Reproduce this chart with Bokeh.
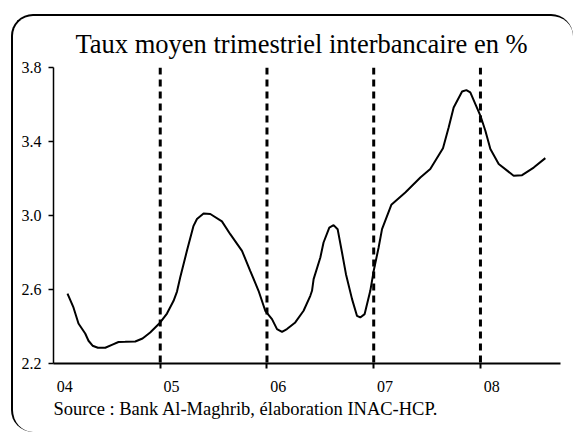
from bokeh.plotting import figure
from bokeh.models import FixedTicker, Span, Title, NumeralTickFormatter
from bokeh.embed import file_html
from bokeh.resources import INLINE

title_text = "Taux moyen trimestriel interbancaire en %"
source_text = "Source : Bank Al-Maghrib, élaboration INAC-HCP."
year_starts = [2004, 2005, 2006, 2007, 2008]
year_labels = ["04", "05", "06", "07", "08"]
break_years = [2005, 2006, 2007, 2008]
y_ticks = [2.2, 2.6, 3.0, 3.4, 3.8]

t = [2004.131, 2004.187, 2004.234, 2004.297, 2004.328, 2004.366, 2004.416, 2004.485,
     2004.547, 2004.609, 2004.672, 2004.766, 2004.834, 2004.906, 2005.000, 2005.063,
     2005.125, 2005.157, 2005.187, 2005.250, 2005.312, 2005.344, 2005.406, 2005.469,
     2005.578, 2005.656, 2005.766, 2005.843, 2005.921, 2005.984, 2006.047, 2006.094,
     2006.141, 2006.187, 2006.265, 2006.343, 2006.406, 2006.422, 2006.437, 2006.500,
     2006.530, 2006.584, 2006.624, 2006.662, 2006.703, 2006.740, 2006.797, 2006.843,
     2006.874, 2006.915, 2006.968, 2007.000, 2007.046, 2007.078, 2007.165, 2007.296,
     2007.437, 2007.530, 2007.649, 2007.702, 2007.749, 2007.828, 2007.868, 2007.905,
     2008.000, 2008.046, 2008.093, 2008.171, 2008.311, 2008.390, 2008.499, 2008.608]
rate = [2.578, 2.503, 2.416, 2.362, 2.323, 2.296, 2.285, 2.285,
        2.301, 2.316, 2.317, 2.319, 2.335, 2.368, 2.422, 2.470,
        2.539, 2.589, 2.665, 2.809, 2.944, 2.981, 3.011, 3.008,
        2.968, 2.899, 2.809, 2.701, 2.593, 2.485, 2.440, 2.386,
        2.371, 2.386, 2.422, 2.485, 2.566, 2.593, 2.656, 2.773,
        2.854, 2.935, 2.948, 2.926, 2.800, 2.683, 2.548, 2.458,
        2.449, 2.467, 2.593, 2.701, 2.827, 2.926, 3.058, 3.124,
        3.205, 3.251, 3.364, 3.476, 3.584, 3.670, 3.678, 3.665,
        3.539, 3.458, 3.359, 3.278, 3.215, 3.218, 3.259, 3.310]

FONT = "Liberation Serif"

p = figure(width=562, height=418, x_range=(2004.0, 2008.75), y_range=(2.2, 3.8),
           output_backend="svg", toolbar_location=None,
           min_border_left=40, min_border_right=15, min_border_top=51, min_border_bottom=71)
p.margin = (14, 0, 0, 11)
p.styles = {
    "border-top": "2px solid black",
    "border-left": "2px solid black",
    "border-right": "0px solid black",
    "border-bottom": "0px solid black",
    "border-radius": "22px",
}
p.background_fill_color = None
p.border_fill_color = None
p.outline_line_color = None
p.grid.visible = False

p.title.text = title_text
p.title.align = "left"
p.title.offset = 22
p.title.standoff = 18
p.title.text_font = FONT
p.title.text_font_size = "26.5px"
p.title.text_font_style = "normal"
p.title.text_color = "black"

src = Title(text=source_text, align="left", text_font=FONT, text_font_size="18.5px",
            text_font_style="normal", text_color="black", offset=0, standoff=4)
p.add_layout(src, "below")

label_pos = [round(y + 0.105, 3) for y in year_starts]
p.xaxis.ticker = FixedTicker(ticks=label_pos, minor_ticks=break_years)
p.xaxis.major_label_overrides = {pos: lab for pos, lab in zip(label_pos, year_labels)}
p.xaxis.major_tick_out = 0
p.xaxis.major_tick_in = 0
p.xaxis.minor_tick_out = 5
p.xaxis.minor_tick_in = 0
p.xaxis.minor_tick_line_color = "black"
p.xaxis.minor_tick_line_width = 2
p.xaxis.axis_line_width = 2
p.xaxis.axis_line_color = "black"
p.xaxis.major_label_standoff = 12
p.xaxis.major_label_text_font = FONT
p.xaxis.major_label_text_font_size = "16px"
p.xaxis.major_label_text_color = "black"

p.yaxis.ticker = FixedTicker(ticks=y_ticks)
p.yaxis.formatter = NumeralTickFormatter(format="0.0")
p.yaxis.major_tick_out = 5
p.yaxis.major_tick_in = 0
p.yaxis.minor_tick_out = 0
p.yaxis.minor_tick_in = 0
p.yaxis.major_tick_line_color = "black"
p.yaxis.major_tick_line_width = 1.5
p.yaxis.axis_line_width = 1.5
p.yaxis.axis_line_color = "black"
p.yaxis.major_label_standoff = 7
p.yaxis.major_label_text_font = FONT
p.yaxis.major_label_text_font_size = "16px"
p.yaxis.major_label_text_color = "black"

for yr in break_years:
    p.add_layout(Span(location=yr, dimension="height", line_color="black",
                      line_dash="7 5", line_width=3))

p.line(t, rate, line_color="black", line_width=2)

open("out.html", "w").write(file_html(p, INLINE))
